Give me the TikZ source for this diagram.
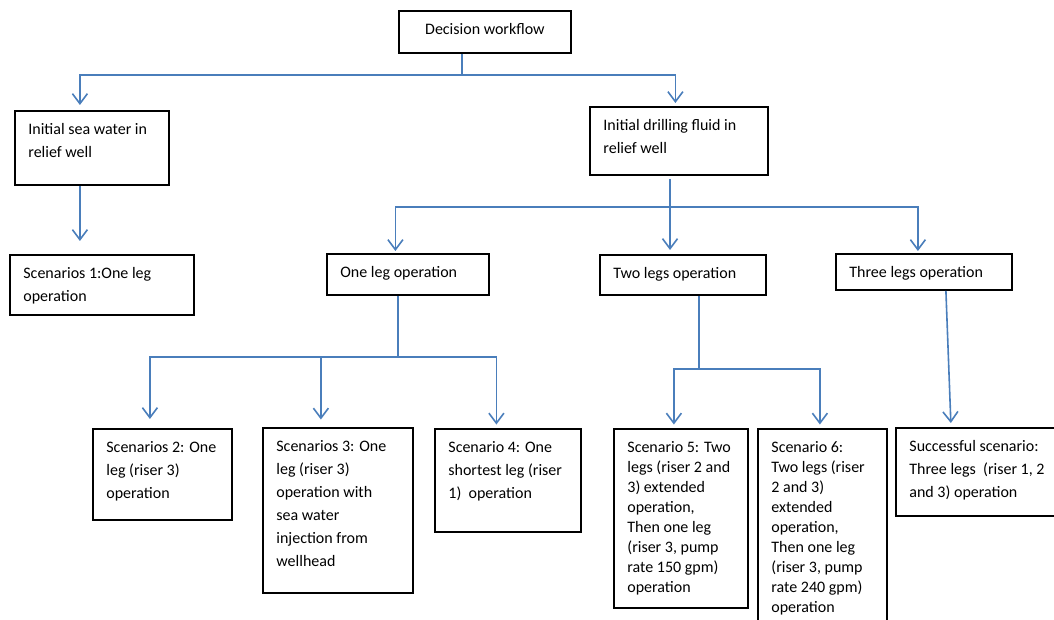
\documentclass[tikz,border=0pt]{standalone}
\usepackage{fontspec}
\setmainfont{Carlito}
\usetikzlibrary{arrows.meta}
\definecolor{linkblue}{RGB}{74,126,187}
\newcommand{\cell}[3]{\parbox[t][\dimexpr#2pt-14.6pt\relax][t]{\dimexpr#1pt-27pt\relax}{\raggedright\rule{0pt}{16pt}#3}}
\tikzset{
  box/.style={draw, line width=1.8pt, anchor=north west, inner xsep=13.5pt, inner ysep=7.3pt, font=\fontsize{16}{23}\selectfont},
  tight/.style={font=\fontsize{16}{20}\selectfont},
  wire/.style={draw=linkblue, line width=1.6pt},
  link/.style={wire, -{Straight Barb[length=10pt,width=15pt]}},
}
\begin{document}
\begin{tikzpicture}[x=1pt,y=-1pt]
\useasboundingbox (0,0) rectangle (1054,620);
\clip (0,0) rectangle (1054,620);
\node[box] (top) at (398,10) {\cell{172}{42}{\centering Decision workflow}};
\node[box] (sea) at (14,110) {\cell{154}{74}{Initial sea water in\\relief well}};
\node[box] (drill) at (589,106) {\cell{178}{68}{Initial drilling fluid in\\relief well}};
\node[box] (sc1) at (9,254) {\cell{184}{60}{Scenarios 1:One leg\\operation}};
\node[box] (one) at (326,253) {\cell{162}{41}{One leg operation}};
\node[box] (two) at (599,254) {\cell{166}{40}{Two legs operation}};
\node[box] (three) at (835,253) {\cell{176}{36}{Three legs operation}};
\node[box] (sc2) at (92,428) {\cell{139}{91}{Scenarios 2: One\\leg (riser 3)\\operation}};
\node[box] (sc3) at (262,427) {\cell{150}{165}{Scenarios 3: One\\leg (riser 3)\\operation with\\sea water\\injection from\\wellhead}};
\node[box] (sc4) at (434,428) {\cell{146}{103}{Scenario 4: One\\shortest leg (riser\\1)\ \ operation}};
\node[box,tight] (sc5) at (613,428) {\cell{134}{179}{Scenario 5: Two\\legs (riser 2 and\\3) extended\\operation,\\Then one leg\\(riser 3, pump\\rate 150 gpm)\\operation}};
\node[box,tight] (sc6) at (757,428) {\cell{129}{205}{Scenario 6:\\Two legs (riser\\2 and 3)\\extended\\operation,\\Then one leg\\(riser 3, pump\\rate 240 gpm)\\operation}};
\node[box] (succ) at (895,427) {\cell{180}{88}{Successful scenario:\\Three legs\ \ (riser 1, 2\\and 3) operation}};
\coordinate (b1) at (462,75);
\coordinate (b2) at (670,207);
\coordinate (b3) at (398,357);
\coordinate (b4) at (699,369);
\draw[wire] (top.south -| b1) -- (b1);
\draw[link, shorten >=5pt] (b1) -| ([xshift=-12pt]sea.north);
\draw[link, shorten >=3pt] (b1) -| ([xshift=-3.5pt]drill.north);
\draw[link, shorten >=13pt] ([xshift=-12pt]sea.south) -- ([xshift=-12pt]sea.south |- sc1.north);
\draw[link, shorten <=3pt, shorten >=4pt] (drill.south -| b2) -- (b2 |- two.north);
\draw[link, shorten >=2pt] (b2) -| ([xshift=-12.5pt]one.north);
\draw[link, shorten >=2pt] (b2) -| ([xshift=-6pt]three.north);
\draw[wire] (one.south -| b3) -- (b3);
\draw[link, shorten >=9pt] (b3) -| ([xshift=-12.5pt]sc2.north);
\draw[link, shorten >=7.5pt] (b3) -| ([xshift=-17pt]sc3.north);
\draw[link, shorten >=3.5pt] (b3) -| ([xshift=-11.5pt]sc4.north);
\draw[wire] (two.south -| b4) -- (b4);
\draw[link, shorten >=3.5pt] (b4) -| ([xshift=-7pt]sc5.north);
\draw[link, shorten >=3.5pt] (b4) -| ([xshift=-2.5pt]sc6.north);
\draw[link, shorten >=4pt] ([xshift=22pt]three.south) -- ([xshift=56pt]succ.north west);
\end{tikzpicture}
\end{document}
